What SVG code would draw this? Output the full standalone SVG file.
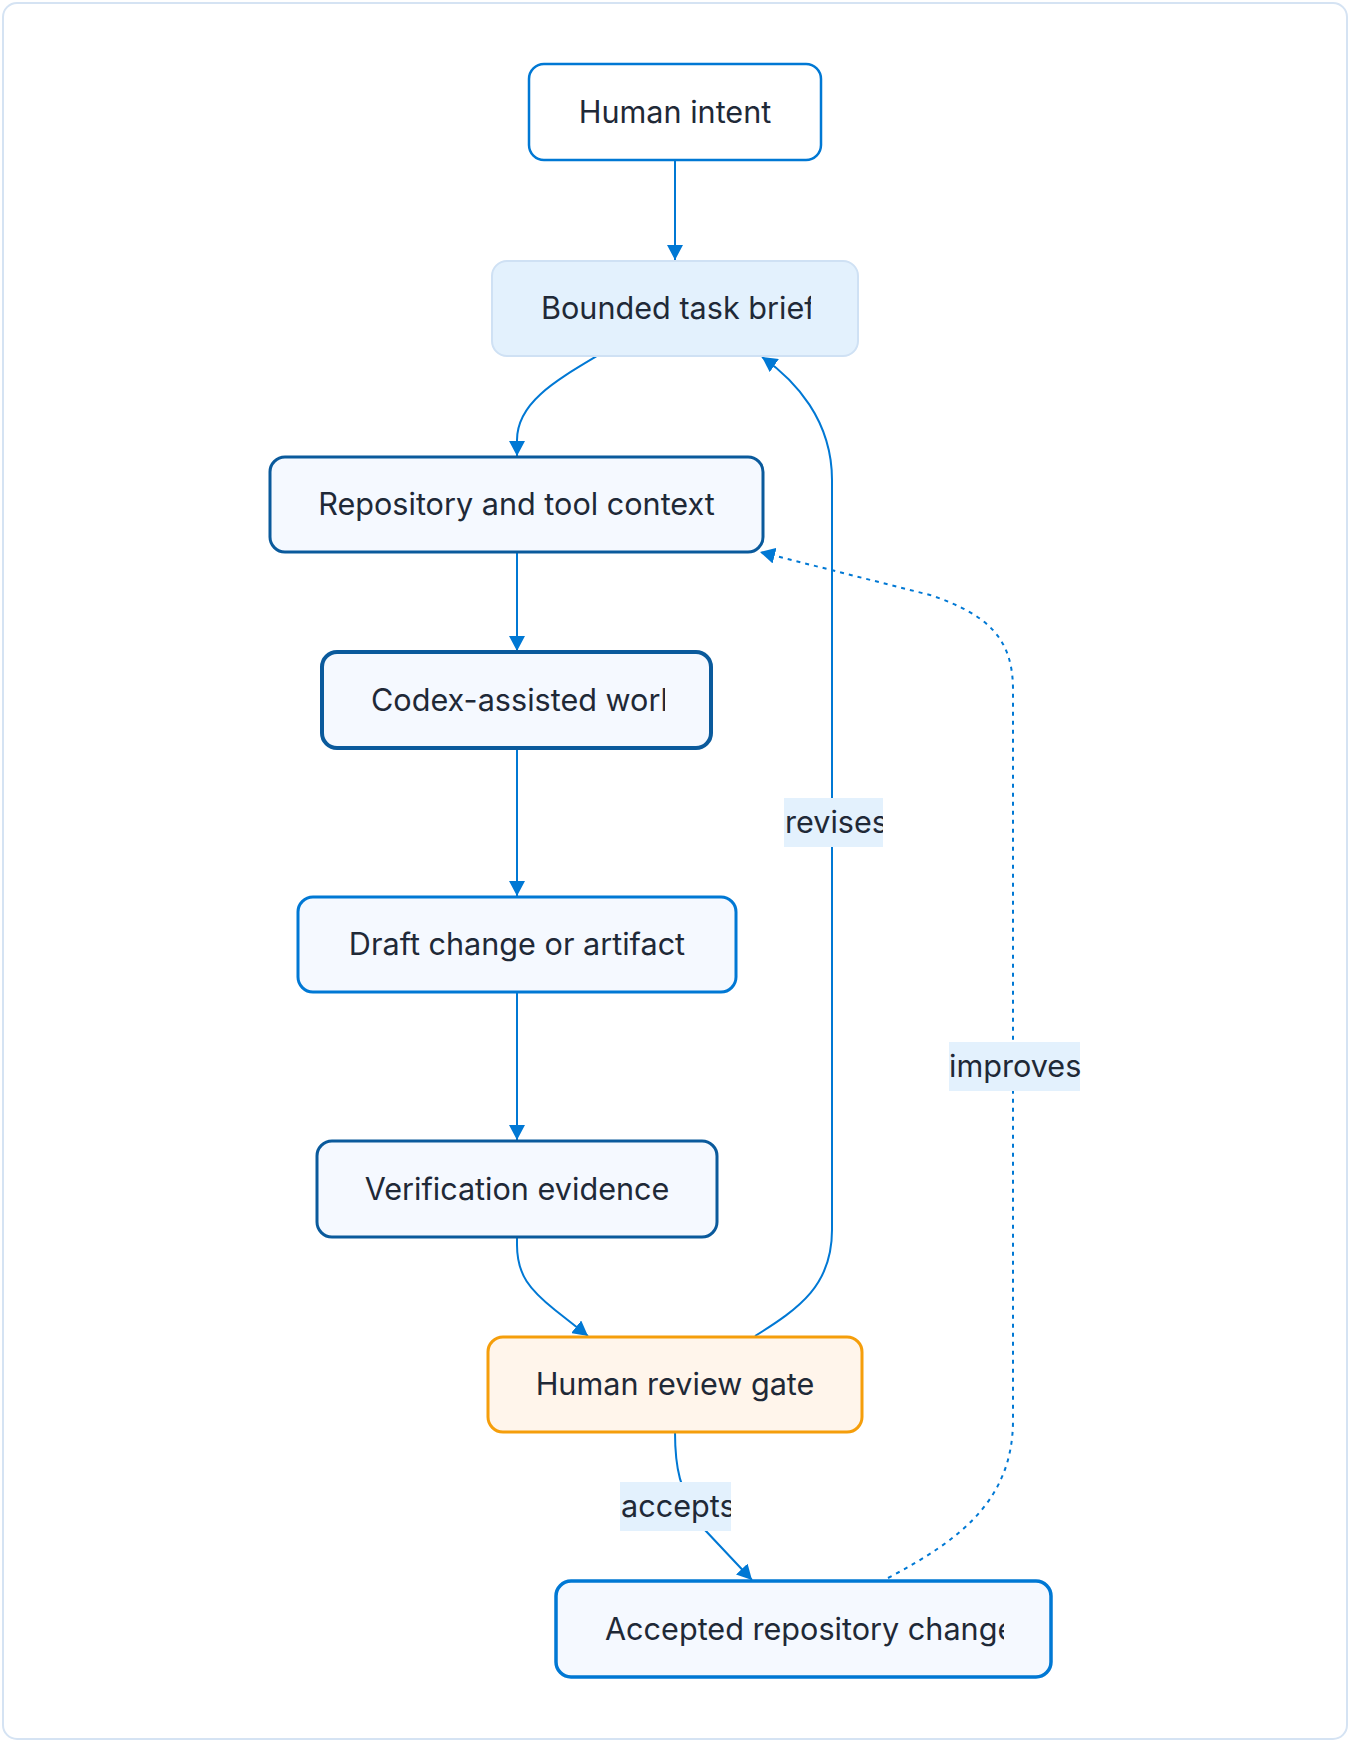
<svg xmlns="http://www.w3.org/2000/svg" width="1350" height="1742" viewBox="0 0 1350 1742">
<style>
.lbl{font-family:Inter,"Noto Sans","Liberation Sans",sans-serif;font-size:30.6px;fill:#1f2937}
.node rect{fill:#f5f9ff}
.edge{fill:none;stroke:#0078d4;stroke-width:2}
.dotted{stroke-dasharray:4 5}
.ebg{fill:#e3f1fd}
</style>
<defs>
<marker id="arr" viewBox="0 0 15 16" refX="15" refY="8" markerWidth="15" markerHeight="16" markerUnits="userSpaceOnUse" orient="auto">
<path d="M0,0 L15,8 L0,16 z" fill="#0078d4"/>
</marker>
<clipPath id="cBrief"><rect x="492" y="261" width="319" height="96"/></clipPath>
<clipPath id="cCodex"><rect x="322" y="652" width="343" height="96"/></clipPath>
<clipPath id="cAcc"><rect x="556" y="1581" width="448" height="96"/></clipPath>
<clipPath id="cRev"><rect x="784" y="798" width="99" height="49"/></clipPath>
<clipPath id="cAccL"><rect x="620" y="1482" width="111" height="49"/></clipPath>
<clipPath id="cImp"><rect x="947" y="1042" width="140" height="49"/></clipPath>
</defs>
<rect width="1350" height="1742" fill="#ffffff"/>
<rect x="3" y="3" width="1344" height="1736" rx="14" fill="#ffffff" stroke="#d5e3f3" stroke-width="2"/>

<g id="connectors">
<path class="edge" d="M675,160 L675,260" marker-end="url(#arr)"/>
<path class="edge" d="M597,356 C555,381 517,403 517,440 L517,456" marker-end="url(#arr)"/>
<path class="edge" d="M517,552 L517,651" marker-end="url(#arr)"/>
<path class="edge" d="M517,748 L517,896" marker-end="url(#arr)"/>
<path class="edge" d="M517,992 L517,1140" marker-end="url(#arr)"/>
<path class="edge" d="M517,1237 L517,1245 C517,1275 530,1290 555,1310 L588,1336" marker-end="url(#arr)"/>
<path class="edge" d="M755,1336 C800,1308 832,1285 832,1230 L832,480 C832,420 795,380 762,357" marker-end="url(#arr)"/>
<path class="edge" d="M675,1432 C675,1465 678,1490 705,1530 L752,1580" marker-end="url(#arr)"/>
<path class="edge dotted" d="M888,1578 C960,1540 1013,1500 1013,1420 L1013,690 C1013,640 990,615 930,595 L760,552" marker-end="url(#arr)"/>
<g id="label-revises">
<rect class="ebg" x="784" y="798" width="99" height="49"/>
<text class="lbl" x="785" y="833" clip-path="url(#cRev)">revises</text>
</g>
<g id="label-accepts">
<rect class="ebg" x="620" y="1482" width="111" height="49"/>
<text class="lbl" x="621" y="1517" clip-path="url(#cAccL)">accepts</text>
</g>
<g id="label-improves">
<rect class="ebg" x="949" y="1042" width="131" height="49"/>
<text class="lbl" x="949" y="1077" clip-path="url(#cImp)">improves</text>
</g>
</g>

<g id="node-intent" class="node">
<rect x="529" y="64" width="292" height="96" rx="15" style="fill:#ffffff" stroke="#0078d4" stroke-width="2.5"/>
<text class="lbl" x="675" y="123" text-anchor="middle">Human intent</text>
</g>
<g id="node-brief" class="node">
<rect x="492" y="261" width="366" height="95" rx="15" style="fill:#e3f1fd" stroke="#cfe1f4" stroke-width="2"/>
<text class="lbl" x="541" y="319" clip-path="url(#cBrief)">Bounded task brief</text>
</g>
<g id="node-context" class="node">
<rect x="270" y="457" width="493" height="95" rx="15" stroke="#0a5a9c" stroke-width="3"/>
<text class="lbl" x="516.5" y="515" text-anchor="middle">Repository and tool context</text>
</g>
<g id="node-codex" class="node">
<rect x="322" y="652" width="389" height="96" rx="15" stroke="#0a5a9c" stroke-width="4"/>
<text class="lbl" x="371" y="711" clip-path="url(#cCodex)">Codex-assisted work</text>
</g>
<g id="node-draft" class="node">
<rect x="298" y="897" width="438" height="95" rx="15" stroke="#0078d4" stroke-width="3"/>
<text class="lbl" x="517" y="955" text-anchor="middle">Draft change or artifact</text>
</g>
<g id="node-verify" class="node">
<rect x="317" y="1141" width="400" height="96" rx="15" stroke="#0a5a9c" stroke-width="3"/>
<text class="lbl" x="517" y="1200" text-anchor="middle">Verification evidence</text>
</g>
<g id="node-review" class="node">
<rect x="488" y="1337" width="374" height="95" rx="15" style="fill:#fff5eb" stroke="#f59e0b" stroke-width="3"/>
<text class="lbl" x="675" y="1395" text-anchor="middle">Human review gate</text>
</g>
<g id="node-accepted" class="node">
<rect x="556" y="1581" width="495" height="96" rx="15" stroke="#0078d4" stroke-width="3.5"/>
<text class="lbl" x="605" y="1640" clip-path="url(#cAcc)">Accepted repository change</text>
</g>
</svg>
